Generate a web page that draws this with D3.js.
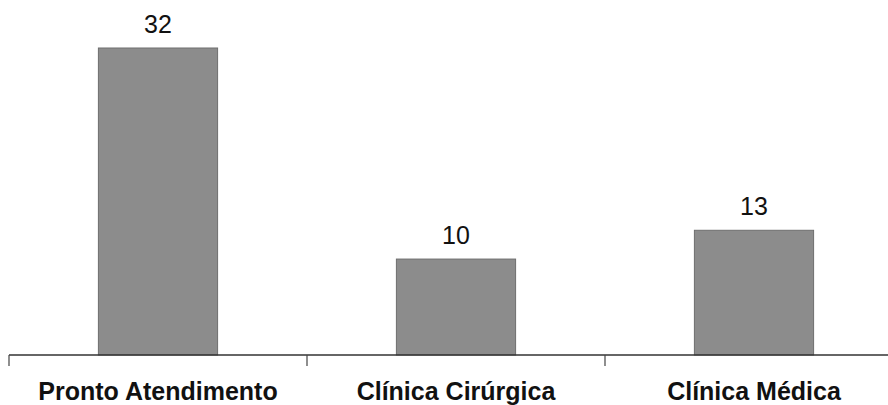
<!DOCTYPE html>
<html>
<head>
<meta charset="utf-8">
<script src="https://cdn.jsdelivr.net/npm/d3@7"></script>
<style>
  body { margin: 0; background: #fff; }
</style>
</head>
<body>
<svg id="chart" width="888" height="405"></svg>
<script>
// setores e número de casos
const categories = ["Pronto Atendimento", "Clínica Cirúrgica", "Clínica Médica"];
const values = [32, 10, 13];

const svg = d3.select("#chart");
const baseY = 355;

const x = d3.scaleBand()
  .domain(categories)
  .range([9, 903])
  .paddingInner(0.6)
  .paddingOuter(0.3);

const y = d3.scaleLinear()
  .domain([0, 32])
  .range([baseY, 48]);

const data = categories.map((c, i) => ({ cat: c, val: values[i] }));

// barras
svg.append("g")
  .selectAll("rect")
  .data(data)
  .join("rect")
    .attr("x", d => x(d.cat))
    .attr("y", d => y(d.val))
    .attr("width", x.bandwidth())
    .attr("height", d => baseY - y(d.val))
    .attr("fill", "#8c8c8c")
    .attr("stroke", "#6e6e6e")
    .attr("stroke-width", 1);

// valores acima das barras
svg.append("g")
  .selectAll("text")
  .data(data)
  .join("text")
    .attr("x", d => x(d.cat) + x.bandwidth() / 2)
    .attr("y", d => y(d.val) - 15)
    .attr("text-anchor", "middle")
    .attr("font-family", "Liberation Sans, Arial, sans-serif")
    .attr("font-size", "25px")
    .attr("fill", "#111")
    .text(d => d.val);

// eixo
const pad = x.step() * x.paddingInner() / 2;
const axis = svg.append("g").attr("transform", `translate(0,${baseY})`);
axis.append("line")
  .attr("x1", 9).attr("x2", 888)
  .attr("stroke", "#333").attr("stroke-width", 1.6);
axis.selectAll(".tick")
  .data(categories)
  .join("line")
    .attr("class", "tick")
    .attr("x1", d => x(d) - pad).attr("x2", d => x(d) - pad)
    .attr("y1", 0).attr("y2", 11)
    .attr("stroke", "#444").attr("stroke-width", 1.2);

axis.selectAll(".lbl")
  .data(categories)
  .join("text")
    .attr("class", "lbl")
    .attr("x", d => x(d) + x.bandwidth() / 2)
    .attr("y", 45)
    .attr("text-anchor", "middle")
    .attr("font-family", "Liberation Sans, Arial, sans-serif")
    .attr("font-size", "25px")
    .attr("font-weight", "bold")
    .attr("fill", "#111")
    .text(d => d);
</script>
</body>
</html>
